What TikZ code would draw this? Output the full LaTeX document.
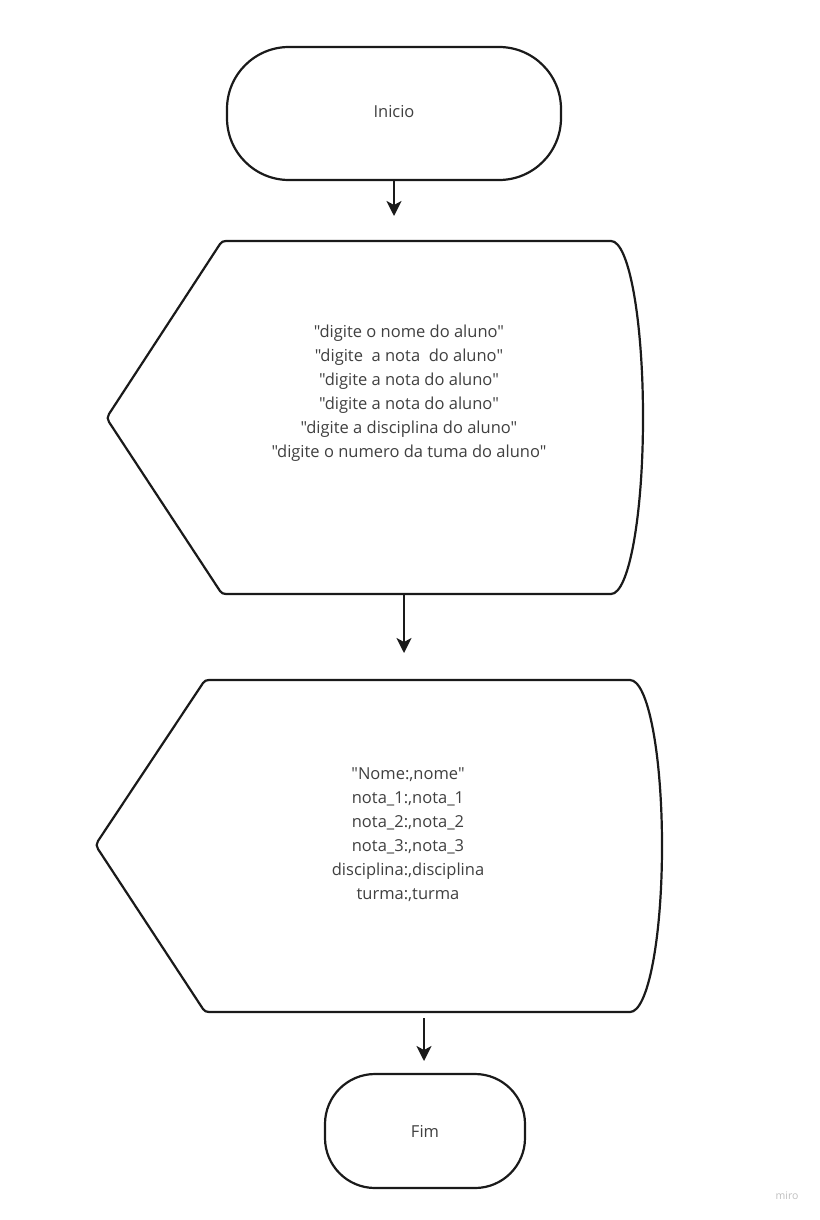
\documentclass[tikz,border=0pt]{standalone}
\usepackage{fontspec}
\setmainfont{Open Sans}[Ligatures=TeXOff]
\usetikzlibrary{arrows.meta}
\definecolor{ln}{HTML}{1A1A1A}
\definecolor{tx}{HTML}{404040}
\tikzset{
  shp/.style={draw=ln, line width=2.2pt, fill=white, line join=round},
  lbl/.style={text=tx, font=\fontsize{16.5}{24}\selectfont, align=center, inner sep=0pt},
  conn/.style={draw=ln, line width=2.2pt, -{Stealth[length=15pt,width=15pt,inset=4pt]}},
}
\begin{document}
\begin{tikzpicture}[x=1pt,y=-1pt]
\useasboundingbox (0,0) rectangle (819,1220);
% Inicio
\draw[shp, rounded corners=62pt] (227,47) rectangle (561,180);
\node[lbl] (inicio) at (394,112) {Inicio};
\coordinate (inicioS) at (394,180);
\coordinate (a1end) at (394,216);
% display 1
\draw[shp] (611,241) -- (226,241) to[out=180,in=55] (220,244) -- (109,414) to[out=235,in=125] (109,422) -- (220,591) to[out=305,in=180] (226,594) -- (611,594)
  .. controls (629,594) and (643,515) .. (643,417.5)
  .. controls (643,320) and (629,241) .. (611,241) -- cycle;
\node[lbl] (disp1) at (409,393) {"digite o nome do aluno"\\"digite\ \ a nota\ \ do aluno"\\"digite a nota do aluno"\\"digite a nota do aluno"\\"digite a disciplina do aluno"\\"digite o numero da tuma do aluno"};
\coordinate (disp1S) at (404,595);
\coordinate (a2end) at (404,653);
% display 2
\draw[shp] (630,680) -- (209,680) to[out=180,in=55] (203,683) -- (98,841) to[out=235,in=125] (98,849) -- (203,1009) to[out=305,in=180] (209,1012) -- (630,1012)
  .. controls (648,1012) and (662,938) .. (662,846)
  .. controls (662,754) and (648,680) .. (630,680) -- cycle;
\node[lbl] (disp2) at (408,835) {"Nome:,nome"\\nota\_1:,nota\_1\\nota\_2:,nota\_2\\nota\_3:,nota\_3\\disciplina:,disciplina\\turma:,turma};
\coordinate (a3start) at (424,1018);
\coordinate (a3end) at (424,1061);
% Fim
\draw[shp, rounded corners=50pt] (325,1074) rectangle (525,1188);
\node[lbl] (fim) at (425,1131) {Fim};
% connectors
\draw[conn] (inicioS) -- (a1end);
\draw[conn] (disp1S) -- (a2end);
\draw[conn] (a3start) -- (a3end);
\node[text=black!25, font=\fontsize{10.5}{12}\selectfont, inner sep=0pt] (miro) at (787,1196) {miro};
\end{tikzpicture}
\end{document}
